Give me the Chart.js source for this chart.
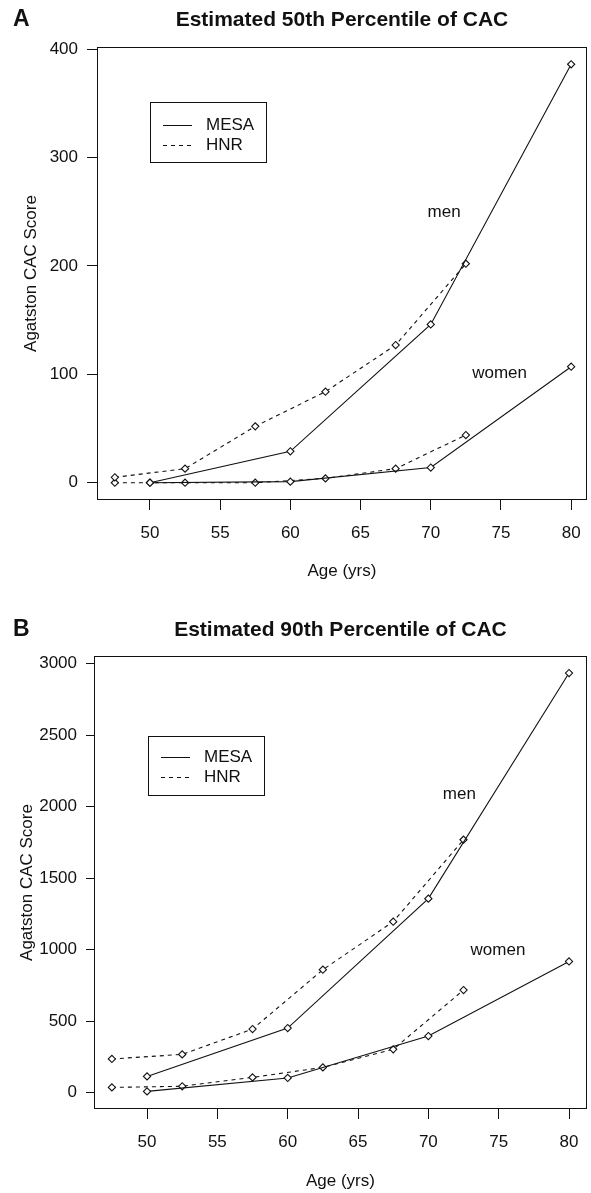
<!DOCTYPE html>
<html>
<head>
<meta charset="utf-8">
<script src="https://cdn.jsdelivr.net/npm/chart.js@4.4.1/dist/chart.umd.min.js"></script>
<style>
  html, body { margin: 0; padding: 0; background: #fff; }
  canvas { display: block; }
</style>
</head>
<body>
<canvas id="chart-p50" width="591" height="596"></canvas>
<canvas id="chart-p90" width="591" height="597"></canvas>
<script>
const HNR_AGES = [47.5, 52.5, 57.5, 62.5, 67.5, 72.5];
const MESA_AGES = [50, 60, 70, 80];
const AGE_TICKS = [50, 55, 60, 65, 70, 75, 80];

// Panel A - 50th percentile
const P50_MESA_MEN = [0, 29, 146, 386];
const P50_MESA_WOMEN = [0, 1, 14, 107];
const P50_HNR_MEN = [5, 13, 52, 84, 127, 202];
const P50_HNR_WOMEN = [0, 0, 0, 4, 13, 44];
const P50_TICKS = [0, 100, 200, 300, 400];

// Panel B - 90th percentile
const P90_MESA_MEN = [114, 452, 1357, 2935];
const P90_MESA_WOMEN = [9, 103, 396, 918];
const P90_HNR_MEN = [236, 268, 445, 860, 1196, 1769];
const P90_HNR_WOMEN = [37, 45, 107, 177, 303, 718];
const P90_TICKS = [0, 500, 1000, 1500, 2000, 2500, 3000];

const FONT = "'Liberation Sans', Arial, sans-serif";
const INK = '#111';

// box, panel letter, title, legend and men/women labels
const panelDecor = {
  id: 'panelDecor',
  afterDraw(chart, args, opts) {
    const { ctx, chartArea: a, scales } = chart;
    ctx.save();
    ctx.strokeStyle = INK;
    ctx.lineWidth = 1;
    ctx.strokeRect(Math.round(a.left) - 0.5, Math.round(a.top) - 0.5,
      Math.round(a.right - a.left) + 1, Math.round(a.bottom - a.top) + 1);

    ctx.fillStyle = INK;
    ctx.textBaseline = 'middle';
    ctx.font = 'bold 23px ' + FONT;
    ctx.textAlign = 'left';
    ctx.fillText(opts.letter, 13, opts.titleY);
    ctx.font = 'bold 21px ' + FONT;
    ctx.textAlign = 'center';
    ctx.fillText(opts.title, (a.left + a.right) / 2, opts.titleY);

    // legend
    const lg = opts.legend;
    ctx.strokeRect(lg.x + 0.5, lg.y + 0.5, lg.w, lg.h);
    ctx.font = '17px ' + FONT;
    ctx.textAlign = 'left';
    [['MESA', []], ['HNR', [4, 4]]].forEach(([label, dash], i) => {
      const y = Math.round(lg.y + lg.rows[i]) + 0.5;
      ctx.setLineDash(dash);
      ctx.beginPath();
      ctx.moveTo(lg.x + 13, y);
      ctx.lineTo(lg.x + 42, y);
      ctx.stroke();
      ctx.setLineDash([]);
      ctx.fillText(label, lg.x + 56, y);
    });

    ctx.textAlign = 'center';
    opts.notes.forEach(n => {
      ctx.fillText(n.text, scales.x.getPixelForValue(n.age), scales.y.getPixelForValue(n.value));
    });
    ctx.restore();
  }
};

function series(label, ages, values, dashed) {
  return {
    label,
    data: ages.map((a, i) => ({ x: a, y: values[i] })),
    borderColor: INK,
    borderWidth: 1.1,
    borderDash: dashed ? [4, 4] : [],
    tension: 0,
    fill: false,
    pointStyle: 'rectRot',
    pointRadius: 3.6,
    pointBorderWidth: 1.1,
    pointBorderColor: INK,
    pointBackgroundColor: '#fff'
  };
}

function buildConfig(p) {
  const tickFont = { family: FONT, size: 17 };
  return {
    type: 'line',
    data: {
      datasets: [
        series('MESA', MESA_AGES, p.mesaMen, false),
        series('MESA', MESA_AGES, p.mesaWomen, false),
        series('HNR', HNR_AGES, p.hnrMen, true),
        series('HNR', HNR_AGES, p.hnrWomen, true)
      ]
    },
    options: {
      responsive: false,
      animation: false,
      layout: { padding: { top: p.top, right: 5, left: 0, bottom: 0 } },
      plugins: {
        legend: { display: false },
        tooltip: { enabled: false },
        panelDecor: p.decor
      },
      scales: {
        x: {
          type: 'linear',
          min: p.xMin,
          max: p.xMax,
          afterBuildTicks: s => { s.ticks = AGE_TICKS.map(v => ({ value: v })); },
          afterFit: s => {
            s.height = p.xAxisHeight;
            // labels sit well inside the box, no edge padding needed
            s.paddingLeft = 0;
            s.paddingRight = 0;
          },
          border: { display: false },
          grid: { drawOnChartArea: false, drawTicks: true, tickLength: 11, color: INK },
          ticks: { color: INK, font: tickFont, padding: 13, maxRotation: 0, autoSkip: false, callback: v => String(v) },
          title: { display: true, text: 'Age (yrs)', color: INK, font: tickFont, padding: { top: 0, bottom: p.xTitlePad } }
        },
        y: {
          min: p.yMin,
          max: p.yMax,
          afterBuildTicks: s => { s.ticks = p.yTicks.map(v => ({ value: v })); },
          afterFit: s => { s.width = p.yAxisWidth; },
          border: { display: false },
          grid: { drawOnChartArea: false, drawTicks: true, tickLength: p.yTickLen, color: INK },
          ticks: { color: INK, font: tickFont, padding: 9, autoSkip: false, callback: v => String(v) },
          title: { display: true, text: 'Agatston CAC Score', color: INK, font: tickFont, padding: { top: p.yTitlePad, bottom: 0 } }
        }
      }
    },
    plugins: [panelDecor]
  };
}

new Chart(document.getElementById('chart-p50'), buildConfig({
  mesaMen: P50_MESA_MEN, mesaWomen: P50_MESA_WOMEN,
  hnrMen: P50_HNR_MEN, hnrWomen: P50_HNR_WOMEN,
  yTicks: P50_TICKS, yMin: -15, yMax: 401,
  xMin: 46.3, xMax: 81.05,
  top: 48, xAxisHeight: 97, yAxisWidth: 98, yTickLen: 11,
  xTitlePad: 14, yTitlePad: 21,
  decor: {
    letter: 'A', title: 'Estimated 50th Percentile of CAC', titleY: 20,
    legend: { x: 150, y: 102, w: 116, h: 60, rows: [23, 43] },
    notes: [{ text: 'men', age: 70.95, value: 249 }, { text: 'women', age: 74.9, value: 101 }]
  }
}));

new Chart(document.getElementById('chart-p90'), buildConfig({
  mesaMen: P90_MESA_MEN, mesaWomen: P90_MESA_WOMEN,
  hnrMen: P90_HNR_MEN, hnrWomen: P90_HNR_WOMEN,
  yTicks: P90_TICKS, yMin: -107, yMax: 3047,
  xMin: 46.3, xMax: 81.2,
  top: 61, xAxisHeight: 85, yAxisWidth: 95, yTickLen: 9,
  xTitlePad: 1, yTitlePad: 17,
  decor: {
    letter: 'B', title: 'Estimated 90th Percentile of CAC', titleY: 34,
    legend: { x: 148, y: 140, w: 116, h: 59, rows: [21, 41] },
    notes: [{ text: 'men', age: 72.2, value: 2084 }, { text: 'women', age: 74.95, value: 993 }]
  }
}));
</script>
</body>
</html>
